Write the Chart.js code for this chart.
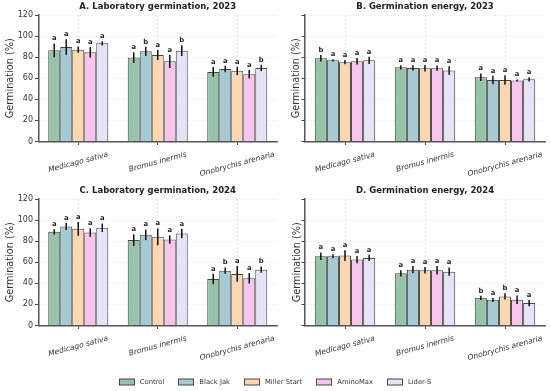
<!DOCTYPE html>
<html>
<head>
<meta charset="utf-8">
<script src="https://cdn.jsdelivr.net/npm/chart.js@4.4.1/dist/chart.umd.min.js"></script>
<style>
  body { margin: 0; width: 550px; height: 391px; background: #fff; position: relative; overflow: hidden; font-family: 'DejaVu Sans', sans-serif; }
  canvas { position: absolute; }
</style>
</head>
<body>
<canvas id="chartA" width="280" height="184" style="left:0;top:0"></canvas>
<canvas id="chartB" width="270" height="184" style="left:280px;top:0"></canvas>
<canvas id="chartC" width="280" height="184" style="left:0;top:184px"></canvas>
<canvas id="chartD" width="270" height="184" style="left:280px;top:184px"></canvas>
<canvas id="legend" width="550" height="23" style="left:0;top:368px"></canvas>
<script>
// Categories and treatments
const species = ['Medicago sativa', 'Bromus inermis', 'Onobrychis arenaria'];
const treatments = ['Control', 'Black Jak', 'Miller Start', 'AminoMax', 'Lider-S'];
const treatmentColors = ['#97c4a9', '#a6cad3', '#fdd6b2', '#f7c4ec', '#e4e3f8'];
const yTicks = [0, 20, 40, 60, 80, 100, 120];

// A. Laboratory germination, 2023 (rows = treatments, cols = species)
const labMeans2023 = [[86.5, 79.6, 66.0], [89.7, 85.6, 68.8], [87.1, 82.1, 67.0], [84.6, 76.1, 63.8], [93.1, 86.2, 69.8]];
const labErrs2023 = [[6.5, 5.0, 4.6], [7.4, 4.4, 3.0], [3.0, 4.7, 4.0], [5.0, 6.3, 4.0], [2.0, 5.0, 3.0]];
const labLetters2023 = [['a', 'a', 'a'], ['a', 'b', 'a'], ['a', 'a', 'a'], ['a', 'a', 'a'], ['a', 'b', 'b']];

// B. Germination energy, 2023
const energyMeans2023 = [[79.0, 70.4, 61.0], [77.0, 69.8, 58.4], [75.2, 69.5, 58.4], [76.1, 69.5, 57.8], [77.0, 67.3, 59.0]];
const energyErrs2023 = [[3.0, 2.0, 3.5], [1.0, 2.5, 4.0], [2.0, 3.0, 4.5], [3.0, 2.5, 1.0], [3.5, 4.0, 2.0]];
const energyLetters2023 = [['b', 'a', 'a'], ['a', 'a', 'a'], ['a', 'a', 'a'], ['a', 'a', 'a'], ['a', 'a', 'a']];

// C. Laboratory germination, 2024
const labMeans2024 = [[88.9, 81.0, 44.1], [94.0, 86.0, 52.0], [91.7, 84.1, 48.9], [88.2, 81.6, 44.8], [92.7, 87.3, 53.0]];
const labErrs2024 = [[2.5, 5.5, 5.0], [3.5, 5.0, 3.0], [6.5, 8.0, 7.5], [4.0, 4.0, 5.0], [4.0, 4.5, 3.0]];
const labLetters2024 = [['a', 'a', 'a'], ['a', 'a', 'b'], ['a', 'a', 'a'], ['a', 'a', 'a'], ['a', 'a', 'b']];

// D. Germination energy, 2024
const energyMeans2024 = [[65.7, 49.5, 26.3], [65.7, 53.0, 24.4], [66.3, 52.4, 27.6], [62.5, 52.4, 24.4], [64.1, 51.1, 21.3]];
const energyErrs2024 = [[3.5, 3.0, 2.0], [2.0, 3.5, 2.0], [5.0, 3.0, 3.0], [3.5, 4.0, 4.0], [3.0, 4.0, 3.0]];
const energyLetters2024 = [['a', 'a', 'b'], ['a', 'a', 'a'], ['a', 'a', 'b'], ['a', 'a', 'a'], ['a', 'a', 'a']];

const FONT = "'DejaVu Sans', sans-serif";

// error bars + significance letters + rotated italic category labels
const annotatePlugin = {
    id: 'annotate',
    afterDatasetsDraw: function (chart) {
        const ctx = chart.ctx;
        const y = chart.scales.y;
        chart.data.datasets.forEach(function (ds, i) {
            chart.getDatasetMeta(i).data.forEach(function (bar, j) {
                const top = y.getPixelForValue(ds.data[j] + ds.errors[j]);
                const bot = y.getPixelForValue(ds.data[j] - ds.errors[j]);
                ctx.save();
                ctx.strokeStyle = '#111';
                ctx.lineWidth = 1.5;
                ctx.beginPath();
                ctx.moveTo(bar.x, top);
                ctx.lineTo(bar.x, bot);
                ctx.stroke();
                ctx.fillStyle = '#222';
                ctx.font = 'bold 6.8px ' + FONT;
                ctx.textAlign = 'center';
                ctx.textBaseline = 'bottom';
                ctx.fillText(ds.letters[j], bar.x, top - 1.5);
                ctx.restore();
            });
        });
    },
    afterDraw: function (chart) {
        const ctx = chart.ctx;
        const xs = chart.scales.x;
        const a = 15 * Math.PI / 180;
        ctx.save();
        ctx.font = 'italic 7.6px ' + FONT;
        ctx.fillStyle = '#333';
        species.forEach(function (s, j) {
            const cx = xs.getPixelForTick(j);
            const w = ctx.measureText(s).width;
            const h = 8;
            const boxH = w * Math.sin(a) + h * Math.cos(a);
            const cy = chart.chartArea.bottom + 9 + boxH / 2;
            ctx.save();
            ctx.translate(cx, cy);
            ctx.rotate(-a);
            ctx.textAlign = 'center';
            ctx.textBaseline = 'middle';
            ctx.fillText(s, 0, 0);
            ctx.restore();
        });
        ctx.restore();
    }
};

function renderPanel(canvasId, title, means, errs, letters, opts) {
    const ctx = document.getElementById(canvasId);
    const datasets = treatments.map(function (t, i) {
        return {
            label: t,
            data: means[i],
            errors: errs[i],
            letters: letters[i],
            backgroundColor: treatmentColors[i],
            borderColor: '#444',
            borderWidth: 1,
            categoryPercentage: 0.755,
            barPercentage: 1
        };
    });
    return new Chart(ctx, {
        type: 'bar',
        data: { labels: species, datasets: datasets },
        plugins: [annotatePlugin],
        options: {
            responsive: false,
            animation: false,
            layout: { padding: { left: 0, right: opts.padRight, top: 0, bottom: 0 } },
            plugins: {
                legend: { display: false },
                tooltip: { enabled: false },
                title: {
                    display: true,
                    text: title,
                    fullSize: false,
                    color: '#222',
                    font: { family: FONT, size: 8.5, weight: 'bold', lineHeight: 1.2 },
                    padding: { top: 2, bottom: 2.8 }
                }
            },
            scales: {
                x: {
                    grid: { display: true, offset: false, color: '#dcdcdc', lineWidth: 0.8, tickColor: '#444', tickLength: 3.5, tickWidth: 1 },
                    border: { display: true, color: '#555', width: 1.5, dash: [2, 2] },
                    ticks: { display: false },
                    afterFit: function (scale) { scale.height = 42.5; }
                },
                y: {
                    min: 0,
                    max: 120,
                    afterBuildTicks: function (scale) { scale.ticks = yTicks.map(function (v) { return { value: v }; }); },
                    grid: { color: '#eaeaea', lineWidth: 0.8, tickColor: '#444', tickLength: 3.5, tickWidth: 1 },
                    border: { display: true, color: '#555', width: 1.5, dash: [2, 2] },
                    ticks: { display: opts.showTicks, color: '#333', padding: 2, font: { family: FONT, size: 8 } },
                    title: {
                        display: true,
                        text: 'Germination (%)',
                        color: '#333',
                        font: { family: FONT, size: 9.7 },
                        padding: { top: opts.titlePad, bottom: 0 }
                    },
                    afterFit: function (scale) { scale.width = opts.axisWidth; }
                }
            }
        }
    });
}

renderPanel('chartA', 'A. Laboratory germination, 2023', labMeans2023, labErrs2023, labLetters2023,
    { showTicks: true, axisWidth: 38.5, padRight: 3, titlePad: 4.5 });
renderPanel('chartB', 'B. Germination energy, 2023', energyMeans2023, energyErrs2023, energyLetters2023,
    { showTicks: false, axisWidth: 25, padRight: 5, titlePad: 11 });
renderPanel('chartC', 'C. Laboratory germination, 2024', labMeans2024, labErrs2024, labLetters2024,
    { showTicks: true, axisWidth: 38.5, padRight: 3, titlePad: 4.5 });
renderPanel('chartD', 'D. Germination energy, 2024', energyMeans2024, energyErrs2024, energyLetters2024,
    { showTicks: false, axisWidth: 25, padRight: 5, titlePad: 12 });

// shared legend, drawn on its own canvas
(function () {
    const lc = document.getElementById('legend').getContext('2d');
    lc.font = '6.8px ' + FONT;
    const boxW = 15, boxH = 6, gapText = 6, gapItem = 14;
    const widths = treatments.map(function (t) { return boxW + gapText + lc.measureText(t).width; });
    const total = widths.reduce(function (s, w) { return s + w; }, 0) + gapItem * (treatments.length - 1);
    let x = (550 - total) / 2;
    const cy = 13.5;
    treatments.forEach(function (t, i) {
        lc.fillStyle = treatmentColors[i];
        lc.fillRect(Math.round(x) + 0.5, cy - boxH / 2 + 0.5, boxW, boxH);
        lc.strokeStyle = '#444';
        lc.lineWidth = 1;
        lc.strokeRect(Math.round(x) + 0.5, cy - boxH / 2 + 0.5, boxW, boxH);
        lc.fillStyle = '#333';
        lc.textBaseline = 'middle';
        lc.fillText(t, x + boxW + gapText, cy + 0.5);
        x += widths[i] + gapItem;
    });
})();
</script>
</body>
</html>
